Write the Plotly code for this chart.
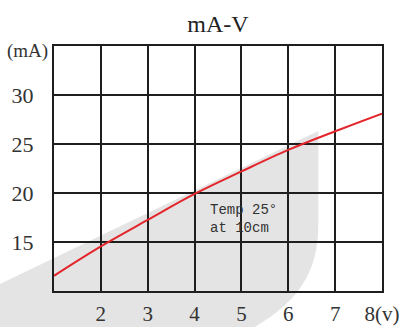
import plotly.graph_objects as go

# 전압(V) - 전류(mA) 곡선
volts = [1, 2, 3, 4, 5, 6, 7, 8]
current_ma = [11.55, 14.55, 17.25, 19.9, 22.2, 24.4, 26.3, 28.1]

x_tickvals = [2, 3, 4, 5, 6, 7, 8]
x_ticktext = ["2", "3", "4", "5", "6", "7", "8(v)"]
y_tickvals = [15, 20, 25, 30]
y_ticktext = ["15", "20", "25", "30"]

W, H = 414, 327
L, R, T, B = 54, 32, 46, 36
PW, PH = W - L - R, H - T - B

SERIF = "Liberation Serif, DejaVu Serif, serif"


def px_to_paper(px, py):
    """픽셀 좌표 -> paper 좌표"""
    return (px - L) / PW, (H - B - py) / PH


def blob_path():
    """배경 회색 영역 (플롯 밖으로 넘어감)"""
    pts = [(-10, 288.8), (318.3, 131), (318.3, 225),
           (318.3, 285), (285, 315), (220, 345), (-10, 345)]
    p = [px_to_paper(*q) for q in pts]
    f = lambda q: f"{q[0]:.4f},{q[1]:.4f}"
    return (f"M {f(p[0])} L {f(p[1])} L {f(p[2])} "
            f"C {f(p[3])} {f(p[4])} {f(p[5])} L {f(p[6])} Z")


fig = go.Figure()

fig.add_trace(go.Scatter(
    x=volts, y=current_ma,
    mode='lines',
    line=dict(color='#e3262b', width=2, shape='spline'),
    showlegend=False, hoverinfo='skip'
))

fig.add_shape(
    type='path', path=blob_path(),
    xref='paper', yref='paper',
    fillcolor='#e4e4e4', line=dict(width=0),
    layer='below'
)

# 주석
fig.add_annotation(
    x=4.29, y=17.37, xref='x', yref='y',
    text="Temp 25°<br>at 10cm", showarrow=False,
    xanchor='left', yanchor='middle', align='left',
    font=dict(family="Liberation Mono, monospace", size=14, color='#333333')
)
ax, ay = px_to_paper(50, 51)
fig.add_annotation(
    x=ax, y=ay, xref='paper', yref='paper',
    text="(mA)", showarrow=False,
    xanchor='right', yanchor='middle',
    font=dict(family=SERIF, size=19, color='#333333')
)

axis_common = dict(
    showgrid=True, gridcolor='#1e1e1e', gridwidth=2,
    showline=True, linecolor='#1e1e1e', linewidth=2, mirror=True,
    zeroline=False, ticks='outside', tickcolor='rgba(0,0,0,0)',
    automargin=False, fixedrange=True
)

fig.update_xaxes(range=[1, 8], tickvals=x_tickvals, ticktext=x_ticktext,
                 ticklen=3, tickfont=dict(family=SERIF, size=21, color='#333333'),
                 **axis_common)
fig.update_yaxes(range=[10, 35], tickvals=y_tickvals, ticktext=y_ticktext,
                 ticklen=14, tickfont=dict(family=SERIF, size=22, color='#333333'),
                 **axis_common)

fig.update_layout(
    width=W, height=H,
    margin=dict(l=L, r=R, t=T, b=B, pad=0, autoexpand=False),
    paper_bgcolor='white', plot_bgcolor='rgba(0,0,0,0)',
    title=dict(text="mA-V", x=(L + PW / 2) / W, xanchor='center',
               y=1 - 24 / H, yanchor='middle',
               font=dict(family=SERIF, size=24, color='#222222')),
)

# body 기본 여백(8px) 제거
fig.write_html("out.html", config={'displayModeBar': False},
               post_script="document.body.style.margin='0';")
